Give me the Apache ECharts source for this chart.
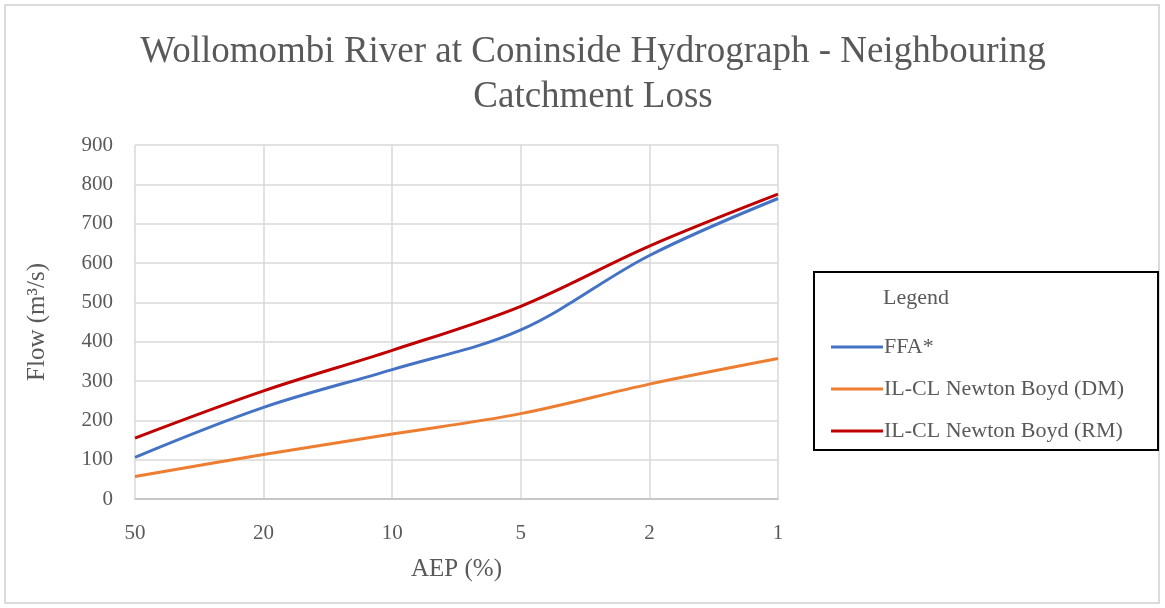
<!DOCTYPE html>
<html><head><meta charset="utf-8">
<script src="https://cdn.jsdelivr.net/npm/echarts@6/dist/echarts.min.js"></script>
<style>html,body{margin:0;padding:0;background:#fff}#c{width:1165px;height:608px}</style>
</head><body><div id="c"></div>
<script>
const categories = ['50', '20', '10', '5', '2', '1'];
const ffa = [106, 233, 329, 430, 619, 764];
const dm = [57, 113, 165, 217, 292, 357];
const rm = [155, 275, 378, 490, 643, 775];
const seriesNames = ['FFA*', 'IL-CL Newton Boyd (DM)', 'IL-CL Newton Boyd (RM)'];
const colors = ['#4472c4', '#ed7d31', '#c00000'];

const font = 'Liberation Serif, Times New Roman, serif';
const chart = echarts.init(document.getElementById('c'));
chart.setOption({
  animation: false,
  title: {
    text: 'Wollomombi River at Coninside Hydrograph - Neighbouring\nCatchment Loss',
    left: 588, top: 25, textAlign: 'center',
    textStyle: { fontFamily: font, fontWeight: 'normal', fontSize: 37, color: '#595959', lineHeight: 45 }
  },
  grid: { left: 135, right: 387, top: 145, bottom: 109 },
  xAxis: {
    type: 'category', data: categories, boundaryGap: false,
    name: 'AEP (%)', nameLocation: 'middle', nameGap: 58,
    nameTextStyle: { fontFamily: font, fontSize: 25, color: '#595959' },
    axisLine: { lineStyle: { color: '#bfbfbf', width: 1.5 } },
    axisTick: { show: false },
    axisLabel: { fontFamily: font, fontSize: 21, color: '#595959', margin: 24 },
    splitLine: { show: true, lineStyle: { color: '#d9d9d9', width: 1.5 } }
  },
  yAxis: {
    type: 'value', min: 0, max: 900, interval: 100,
    name: 'Flow (m³/s)', nameLocation: 'middle', nameGap: 85,
    nameTextStyle: { fontFamily: font, fontSize: 25, color: '#595959' },
    axisLine: { show: false }, axisTick: { show: false },
    axisLabel: { fontFamily: font, fontSize: 21, color: '#595959', margin: 22 },
    splitLine: { lineStyle: { color: '#d9d9d9', width: 1.5 } }
  },
  legend: {
    orient: 'vertical', left: 826, top: 331,
    itemWidth: 52, itemHeight: 3, itemGap: 20, icon: 'rect',
    textStyle: { fontFamily: font, fontSize: 22, color: '#595959', padding: [0, 0, 0, -4] },
    data: seriesNames
  },
  graphic: [
    { type: 'rect', shape: { x: 5, y: 5, width: 1154, height: 598 }, style: { fill: 'none', stroke: '#d0d0d0', lineWidth: 1.5 }, silent: true },
    { type: 'rect', shape: { x: 814, y: 272, width: 344, height: 178 }, style: { fill: 'none', stroke: '#000', lineWidth: 2 }, silent: true },
    { type: 'text', left: 883, top: 287, style: { text: 'Legend', font: '22px ' + font, fill: '#595959' } }
  ],
  series: [
    { name: seriesNames[0], type: 'line', data: ffa, smooth: 0.35, showSymbol: false, lineStyle: { color: colors[0], width: 3 }, itemStyle: { color: colors[0] } },
    { name: seriesNames[1], type: 'line', data: dm, smooth: 0.35, showSymbol: false, lineStyle: { color: colors[1], width: 3 }, itemStyle: { color: colors[1] } },
    { name: seriesNames[2], type: 'line', data: rm, smooth: 0.35, showSymbol: false, lineStyle: { color: colors[2], width: 3 }, itemStyle: { color: colors[2] } }
  ]
});
</script></body></html>
